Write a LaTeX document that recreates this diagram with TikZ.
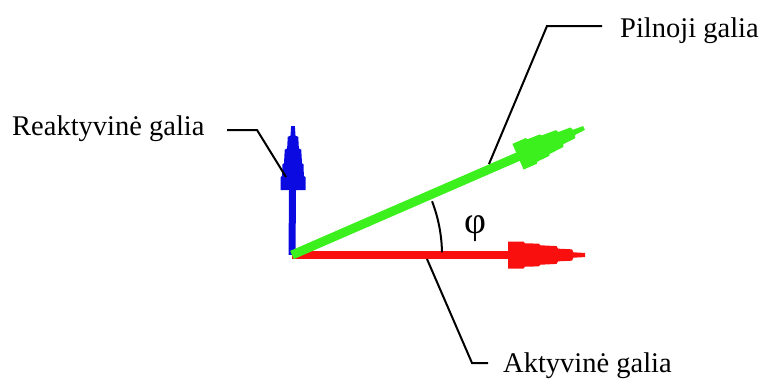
\documentclass[tikz,border=0pt]{standalone}
\usepackage{fontspec}
\setmainfont{Liberation Serif}
\usetikzlibrary{calc}
\definecolor{vred}{RGB}{250,15,15}
\definecolor{vblue}{RGB}{10,10,225}
\definecolor{vgreen}{RGB}{60,240,30}
\newcommand{\stephead}[5]{% tip, angle, length, halfwidth, colour
  \begin{scope}[shift={(#1)},rotate=#2,xscale=#3,yscale=#4]
    \fill[#5] (0,0.15) -- (-0.15,0.2) -- (-0.17,0.42) -- (-0.35,0.47) -- (-0.37,0.66)
      -- (-0.58,0.72) -- (-0.60,0.84) -- (-0.78,0.87) -- (-0.80,1) -- (-1,1)
      -- (-1,-1) -- (-0.80,-1) -- (-0.78,-0.87) -- (-0.60,-0.84) -- (-0.58,-0.72)
      -- (-0.37,-0.66) -- (-0.35,-0.47) -- (-0.17,-0.42) -- (-0.15,-0.2) -- (0,-0.15) -- cycle;
  \end{scope}}
\begin{document}
\begin{tikzpicture}[x=1pt,y=-1pt,
  lbl/.style={inner sep=0pt,font=\fontsize{28.5}{34}\selectfont},
  leader/.style={draw=black,line width=2pt},
  vec/.style={line width=#1},
]
\useasboundingbox (0,0) rectangle (760,378);
\coordinate (O) at (292,255);
\coordinate (R) at (585,255);
\coordinate (B) at (293,126);
\coordinate (G) at (584,128);
% vectors (shafts)
\draw[vec=8pt,vred] (O) -- ($(R)!70pt!(O)$);
\draw[vec=7pt,vblue] (O) -- ($(B)!60pt!(O)$);
\draw[vec=9pt,vgreen] (O) -- ($(G)!68pt!(O)$);
% heads
\stephead{R}{0}{77}{13.5}{vred}
\stephead{B}{90}{64}{12.5}{vblue}
\stephead{G}{23.5}{72}{14}{vgreen}
% angle
\draw[leader] (O) ++(-1:150) arc[start angle=-1,end angle=-21,radius=150] coordinate (arcend);
\node[inner sep=0pt,font=\fontsize{38}{44}\selectfont] (phi) at (475,229) {φ};
% labels
\node[lbl,anchor=base west] (reak) at (12,135) {Reaktyvinė galia};
\node[lbl,anchor=base west] (piln) at (620,37) {Pilnoji galia};
\node[lbl,anchor=base west] (akt) at (503,372) {Aktyvinė galia};
% leader points
\coordinate (r1) at (227,130);
\coordinate (r2) at (257,130);
\coordinate (r3) at (286,177);
\coordinate (p1) at (602,26);
\coordinate (p2) at (547,26);
\coordinate (p3) at (489,164);
\coordinate (a1) at (427,259);
\coordinate (a2) at (472,363);
\coordinate (a3) at (488,363);
\draw[leader] (r1) -- (r2) -- (r3);
\draw[leader] (p1) -- (p2) -- (p3);
\draw[leader] (a1) -- (a2) -- (a3);
\end{tikzpicture}
\end{document}
